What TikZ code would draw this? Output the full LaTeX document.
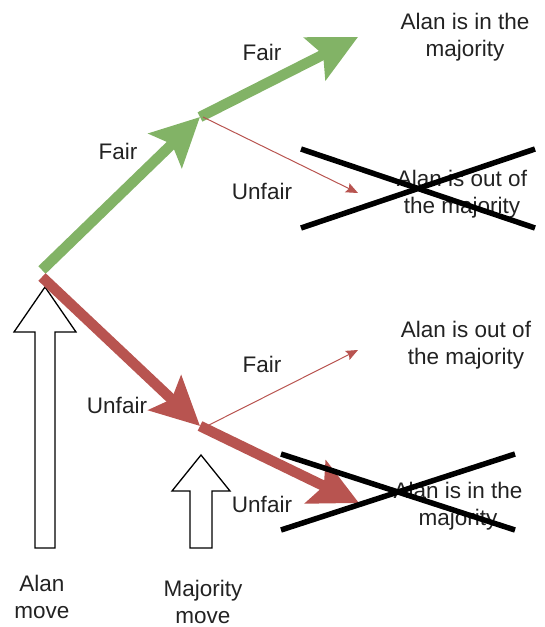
\documentclass[tikz,border=0pt]{standalone}
\usepackage{fontspec}
\setmainfont{Liberation Sans}
\usetikzlibrary{arrows.meta}
\definecolor{dgreen}{HTML}{82B366}
\definecolor{dred}{HTML}{B85450}
\definecolor{txt}{HTML}{222222}
\tikzset{
  thickarrow/.style={line width=10.5pt,-{Stealth[length=48pt,width=47pt,inset=9pt]}},
  thinarrow/.style={dred,line width=1pt,-{Stealth[length=12pt,width=10pt,inset=2pt]}},
  lbl/.style={text=txt,font=\fontsize{22.5}{26}\selectfont,inner sep=0pt},
  outcome/.style={text=txt,font=\fontsize{22.5}{27}\selectfont,align=center,inner sep=0pt},
  crossline/.style={line width=5.5pt,black},
  hollow/.style={draw=black,line width=1.3pt,fill=white}
}
\begin{document}
\begin{tikzpicture}[x=1pt,y=-1pt]
\useasboundingbox (0,0) rectangle (544,627);
% coordinates
\coordinate (rootg) at (42,270);
\coordinate (rootr) at (42,277);
\coordinate (b1) at (200,117);
\coordinate (b1s) at (203,117);
\coordinate (b2) at (200,426);
\coordinate (b2s) at (203,428);
\coordinate (t1) at (358,37);
\coordinate (t2) at (358,193);
\coordinate (t3) at (358,350);
\coordinate (t4) at (359,503);
% hollow arrows
\draw[hollow] (35,548) -- (35,332) -- (14,332) -- (45,287) -- (76,332) -- (55,332) -- (55,548) -- cycle;
\draw[hollow] (190,548) -- (190,491) -- (172,491) -- (201,455) -- (230,491) -- (212,491) -- (212,548) -- cycle;
% green path
\draw[thickarrow,dgreen] (rootg) -- (b1);
\draw[thickarrow,dgreen] (b1) -- (t1);
\draw[thinarrow] (b1s) -- (t2);
% red path
\draw[thickarrow,dred] (rootr) -- (b2);
\draw[thickarrow,dred] (b2) -- (t4);
\draw[thinarrow] (b2s) -- (t3);
% labels
\node[lbl] (l1) at (118,151) {Fair};
\node[lbl] (l2) at (262,52) {Fair};
\node[lbl] (l3) at (262,191) {Unfair};
\node[lbl] (l4) at (117,405) {Unfair};
\node[lbl] (l5) at (262,364) {Fair};
\node[lbl] (l6) at (262,504) {Unfair};
% outcomes
\node[outcome] (o1) at (465,37) {Alan is in the\\majority};
\node[outcome] (o2) at (462,194) {Alan is out of\\the majority};
\node[outcome] (o3) at (466,345) {Alan is out of\\the majority};
\node[outcome] (o4) at (458,506) {Alan is in the\\majority};
% crosses
\draw[crossline] (301,149) -- (535,228);
\draw[crossline] (301,228) -- (535,149);
\draw[crossline] (281,454) -- (515,530);
\draw[crossline] (281,530) -- (515,454);
% move labels
\node[outcome] (m1) at (42,597) {Alan\\move};
\node[outcome] (m2) at (203,602) {Majority\\move};
\end{tikzpicture}
\end{document}
